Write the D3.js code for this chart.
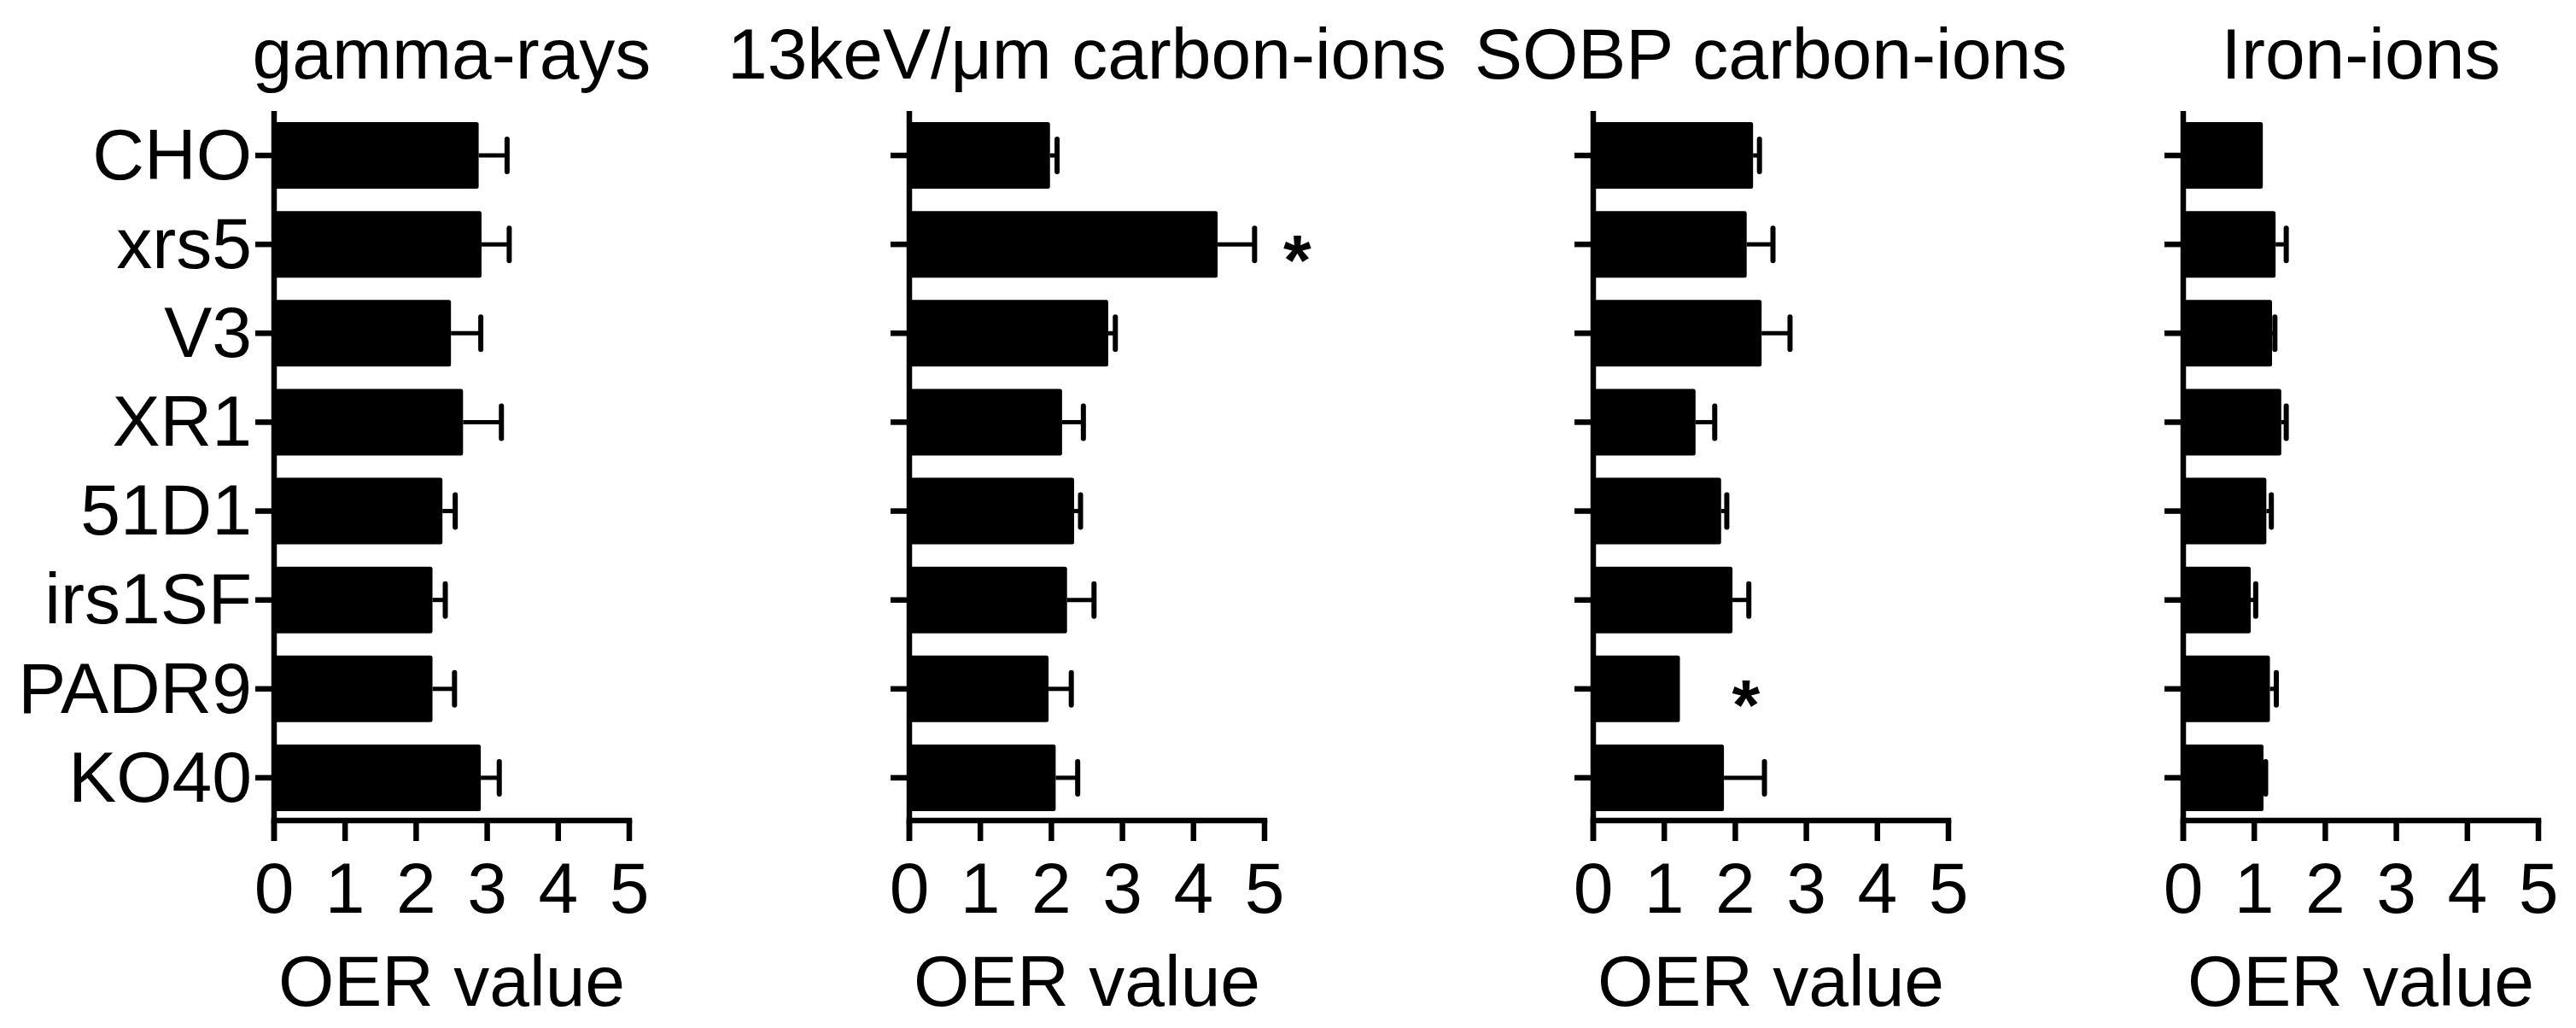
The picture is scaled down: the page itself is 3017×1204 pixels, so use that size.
<!DOCTYPE html>
<html>
<head>
<meta charset="utf-8">
<script src="https://cdn.jsdelivr.net/npm/d3@7"></script>
<style>
  html, body { margin: 0; padding: 0; background: #fff; }
  svg { display: block; }
  text { font-family: "Liberation Sans", Arial, Helvetica, sans-serif; fill: #000; }
</style>
</head>
<body>
<script>
// ---------- data ----------
const categories = ["CHO", "xrs5", "V3", "XR1", "51D1", "irs1SF", "PADR9", "KO40"];
const panelTitles = ["gamma-rays", "13keV/\u03bcm carbon-ions", "SOBP carbon-ions", "Iron-ions"];
const xTicks = [0, 1, 2, 3, 4, 5];
const axisLabel = "OER value";

const gammaMean = [2.88, 2.92, 2.49, 2.66, 2.37, 2.23, 2.23, 2.91];
const gammaErr  = [0.40, 0.39, 0.42, 0.54, 0.18, 0.18, 0.31, 0.26];

const carbonLetMean = [1.98, 4.34, 2.80, 2.15, 2.32, 2.22, 1.96, 2.06];
const carbonLetErr  = [0.10, 0.52, 0.10, 0.30, 0.09, 0.38, 0.32, 0.31];

const sobpMean = [2.25, 2.16, 2.37, 1.44, 1.80, 1.96, 1.22, 1.84];
const sobpErr  = [0.09, 0.37, 0.40, 0.27, 0.08, 0.23, 0.00, 0.57];

const ironMean = [1.12, 1.30, 1.25, 1.38, 1.17, 0.95, 1.22, 1.13];
const ironErr  = [0.00, 0.15, 0.04, 0.07, 0.07, 0.07, 0.09, 0.03];

// significance markers: panel index, category, value position of the mark
const sigPanel    = [1, 2];
const sigCategory = ["xrs5", "PADR9"];
const sigAt       = [5.46, 2.15];

const panelMeans = [gammaMean, carbonLetMean, sobpMean, ironMean];
const panelErrs  = [gammaErr, carbonLetErr, sobpErr, ironErr];

// ---------- layout ----------
const W = 3017, H = 1204;
const panelLeft = [321, 1065, 1866, 2557];
const panelWidth = 416;
const plotTop = 130, plotBottom = 963;
const axisY = 961;
const fontSize = 84;
const lw = 6.5;

const svg = d3.select("body").append("svg")
  .attr("width", W).attr("height", H)
  .attr("viewBox", `0 0 ${W} ${H}`);
svg.append("rect").attr("width", W).attr("height", H).attr("fill", "#fff");

const y = d3.scaleBand().domain(categories).range([plotTop, plotBottom])
  .paddingInner(0.25).paddingOuter(0.125);

panelTitles.forEach((title, p) => {
  const x0 = panelLeft[p];
  const x = d3.scaleLinear().domain([0, 5]).range([x0, x0 + panelWidth]);
  const g = svg.append("g");
  const means = panelMeans[p], errs = panelErrs[p];
  const rows = categories.map((c, i) => ({ c, m: means[i], e: errs[i] }));

  // bars
  g.selectAll("rect.bar").data(rows).enter().append("rect")
    .attr("class", "bar")
    .attr("x", x(0))
    .attr("y", d => y(d.c))
    .attr("width", d => x(d.m) - x(0))
    .attr("height", y.bandwidth())
    .attr("rx", 2.5)
    .attr("fill", "#000");

  // error bars
  const eb = rows.filter(d => d.e > 0);
  g.selectAll("line.err").data(eb).enter().append("line")
    .attr("x1", d => x(d.m)).attr("x2", d => x(d.m + d.e))
    .attr("y1", d => y(d.c) + y.bandwidth() / 2)
    .attr("y2", d => y(d.c) + y.bandwidth() / 2)
    .attr("stroke", "#000").attr("stroke-width", 5);
  g.selectAll("line.cap").data(eb).enter().append("line")
    .attr("x1", d => x(d.m + d.e)).attr("x2", d => x(d.m + d.e))
    .attr("y1", d => y(d.c) + y.bandwidth() / 2 - 19)
    .attr("y2", d => y(d.c) + y.bandwidth() / 2 + 19)
    .attr("stroke", "#000").attr("stroke-width", 6)
    .attr("stroke-linecap", "round");

  // y axis line
  g.append("line")
    .attr("x1", x(0)).attr("x2", x(0))
    .attr("y1", plotTop).attr("y2", axisY + 24)
    .attr("stroke", "#000").attr("stroke-width", lw);
  // y ticks
  g.selectAll("line.ytick").data(categories).enter().append("line")
    .attr("x1", x(0) - 22).attr("x2", x(0))
    .attr("y1", d => y(d) + y.bandwidth() / 2)
    .attr("y2", d => y(d) + y.bandwidth() / 2)
    .attr("stroke", "#000").attr("stroke-width", lw);
  if (p === 0) {
    g.selectAll("text.ylab").data(categories).enter().append("text")
      .attr("x", x(0) - 26)
      .attr("y", d => y(d) + y.bandwidth() / 2)
      .attr("dy", "0.33em")
      .attr("text-anchor", "end")
      .attr("font-size", fontSize)
      .text(d => d);
  }

  // x axis line
  g.append("line")
    .attr("x1", x(0) - lw / 2).attr("x2", x(5) + lw / 2)
    .attr("y1", axisY).attr("y2", axisY)
    .attr("stroke", "#000").attr("stroke-width", lw);
  g.selectAll("line.xtick").data(xTicks).enter().append("line")
    .attr("x1", d => x(d)).attr("x2", d => x(d))
    .attr("y1", axisY).attr("y2", axisY + 24)
    .attr("stroke", "#000").attr("stroke-width", lw);
  g.selectAll("text.xlab").data(xTicks).enter().append("text")
    .attr("x", d => x(d)).attr("y", 1069)
    .attr("text-anchor", "middle")
    .attr("font-size", fontSize)
    .text(d => d3.format("d")(d));

  // axis label
  g.append("text")
    .attr("x", (x(0) + x(5)) / 2).attr("y", 1178)
    .attr("text-anchor", "middle")
    .attr("font-size", fontSize)
    .text(axisLabel);

  // title
  g.append("text")
    .attr("x", (x(0) + x(5)) / 2).attr("y", 92)
    .attr("text-anchor", "middle")
    .attr("font-size", fontSize)
    .text(title);

  // significance markers
  sigPanel.forEach((sp, k) => {
    if (sp !== p) return;
    g.append("text")
      .attr("x", x(sigAt[k]))
      .attr("y", y(sigCategory[k]) + y.bandwidth() / 2 + 48)
      .attr("text-anchor", "middle")
      .attr("font-size", 84)
      .attr("font-weight", "bold")
      .text("*");
  });
});
</script>
</body>
</html>
